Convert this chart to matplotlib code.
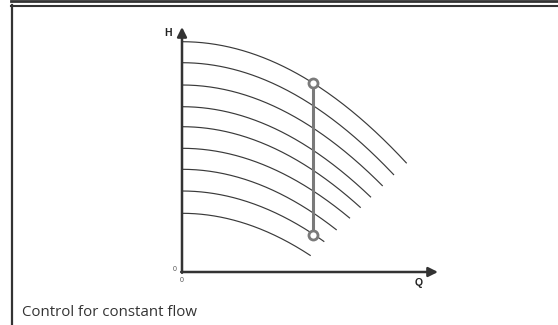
import matplotlib
matplotlib.use("Agg")
import matplotlib.pyplot as plt
from matplotlib.lines import Line2D
import numpy as np

# pump curves: head at Q=0, and where each curve stops
h_start = [230.3, 209.3, 187.0, 165.3, 145.3, 123.7, 102.7, 81.0, 58.7]
q_end = [224.7, 212.0, 200.7, 189.0, 178.7, 168.0, 154.7, 142.3, 128.7]
h_end = [108.7, 97.0, 86.0, 74.7, 64.3, 53.7, 42.0, 30.3, 16.3]

# constant flow operating line (top and bottom point)
op_q = [131.0, 131.0]
op_h = [189.0, 37.0]

caption = "Control for constant flow"

W, H = 558, 325
fig = plt.figure(figsize=(W / 100, H / 100), dpi=100)

# frame: double line on top, single line on the left
dark = "#333333"
fig.add_artist(Line2D([11 / W, 1], [1 - 1.2 / H, 1 - 1.2 / H], transform=fig.transFigure,
                      color=dark, lw=2.0))
fig.add_artist(Line2D([11 / W, 1], [1 - 5.7 / H, 1 - 5.7 / H], transform=fig.transFigure,
                      color=dark, lw=1.5))
fig.add_artist(Line2D([12.2 / W, 12.2 / W], [0, 1 - 5 / H], transform=fig.transFigure,
                      color=dark, lw=1.6))

# chart axes, origin at pixel (182, 272)
x0, y0 = 182, 272
xmax, ymax = 260, 250
ax = fig.add_axes([x0 / W, (H - y0) / H, xmax / W, ymax / H])
ax.set_xlim(0, xmax)
ax.set_ylim(0, ymax)
ax.axis("off")

for h0, qe, he in zip(h_start, q_end, h_end):
    k = (h0 - he) / qe ** 2
    q = np.linspace(0, qe, 200)
    ax.plot(q, h0 - k * q ** 2, color="#3a3a3a", lw=0.85, solid_capstyle="butt")

gray = "#7a7a7a"
ax.plot(op_q, op_h, color=gray, lw=2.2, zorder=3)
ax.plot(op_q, op_h, "o", color=gray, mfc="white", mew=2.0, ms=6.5, zorder=4)

# axes with arrow heads
arrow = dict(arrowstyle="-|>", color=dark, lw=1.8, mutation_scale=14,
             shrinkA=0, shrinkB=0)
ax.annotate("", xy=(256, 0), xytext=(-0.8, 0), arrowprops=arrow, annotation_clip=False)
ax.annotate("", xy=(0, 245), xytext=(0, -0.8), arrowprops=arrow, annotation_clip=False)

bold = dict(family="Liberation Sans", fontweight="bold", fontsize=7.5, color="#222222")
ax.text(-13.5, 239, "H", ha="center", va="center", **bold)
ax.text(237, -11.5, "Q", ha="center", va="center", **bold)
small = dict(family="Liberation Sans", fontsize=5, color="#555555")
ax.text(-7, 2.5, "0", ha="center", va="center", **small)
ax.text(0, -9, "0", ha="center", va="center", **small)

fig.text(22 / W, 1 - 313 / H, caption, family="Open Sans", fontsize=10.8,
         color="#333333", ha="left", va="center")

fig.savefig("out.png", dpi=100)
